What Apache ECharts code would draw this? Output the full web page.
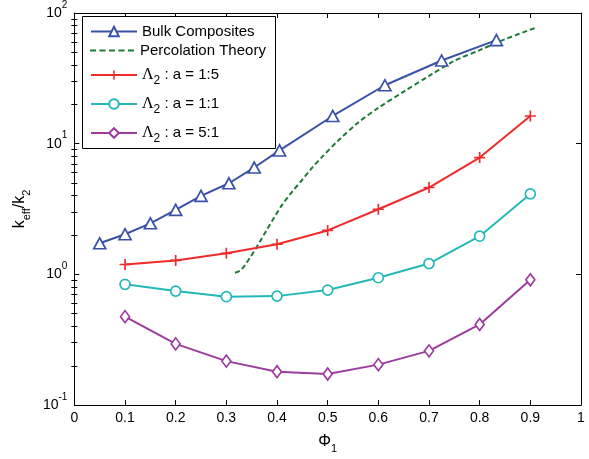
<!DOCTYPE html>
<html>
<head>
<meta charset="utf-8">
<script src="https://cdn.jsdelivr.net/npm/echarts@6/dist/echarts.min.js"></script>
<style>
  html, body { margin: 0; padding: 0; background: #fff; }
  #chart { width: 589px; height: 459px; }
</style>
</head>
<body>
<div id="chart"></div>
<script>
// Effective conductivity ratio k_eff/k_2 versus volume fraction Φ1

// Bulk composites (measured)
const bulkPhi = [0.05, 0.10, 0.15, 0.20, 0.25, 0.305, 0.355, 0.405, 0.51, 0.613, 0.725, 0.833];
const bulkK   = [1.73, 2.03, 2.46, 3.12, 3.99, 4.98, 6.57, 8.88, 16.3, 28.0, 43.3, 62.0];

// Percolation theory curve
const percPhi = [0.317, 0.327, 0.337, 0.347, 0.357, 0.367, 0.38, 0.395, 0.41, 0.43, 0.45, 0.47,
                 0.49, 0.52, 0.56, 0.60, 0.65, 0.70, 0.75, 0.80, 0.85, 0.91];
const percK   = [1.03, 1.07, 1.18, 1.35, 1.55, 1.80, 2.20, 2.75, 3.40, 4.30, 5.30, 6.60,
                 8.00, 10.5, 14.5, 18.8, 25.0, 33.0, 43.0, 52.0, 63.0, 77.0];

// Λ2 model for three aspect ratios
const lambdaPhi = [0.1, 0.2, 0.3, 0.4, 0.5, 0.6, 0.7, 0.8, 0.9];
const lambdaK15 = [1.19, 1.28, 1.45, 1.70, 2.17, 3.15, 4.62, 7.83, 16.3];
const lambdaK11 = [0.84, 0.745, 0.675, 0.682, 0.759, 0.943, 1.21, 1.96, 4.13];
const lambdaK51 = [0.475, 0.294, 0.217, 0.180, 0.173, 0.204, 0.26, 0.414, 0.909];

// Axis ticks
const yMajorTicks = [0.1, 1, 10, 100];
const yMinorTicks = [0.2, 0.3, 0.4, 0.5, 0.6, 0.7, 0.8, 0.9,
                     2, 3, 4, 5, 6, 7, 8, 9,
                     20, 30, 40, 50, 60, 70, 80, 90];

const seriesNames = ['Bulk Composites', 'Percolation Theory',
                     'Λ2 : a = 1:5', 'Λ2 : a = 1:1', 'Λ2 : a = 5:1'];
const legendTops = [24, 43, 63, 92, 121];

const FONT = '"Liberation Sans", Arial, Helvetica, sans-serif';
const COLORS = ['#3a52a6', '#1f7a36', '#ee2a2a', '#25b8b8', '#9c3c9c'];

const zip = (xs, ys) => xs.map((x, i) => [x, ys[i]]);

// Rich-text styles: every token has the same padded height, so the
// padding alone decides where the glyphs sit (sub/superscripts).
function subRich(baseSize, subSize, baseFamily) {
  return {
    b: { fontFamily: baseFamily || FONT, fontSize: baseSize, color: '#000', lineHeight: baseSize,
         padding: [4, 0, 4, 0] },
    s: { fontFamily: FONT, fontSize: subSize, color: '#000', lineHeight: subSize,
         padding: [baseSize + 8 - subSize, 0, 0, 0] }
  };
}

const legendRich = {
  g: { fontFamily: '"Liberation Serif", "Times New Roman", serif', fontSize: 16, color: '#000',
       lineHeight: 16, padding: [4, 0, 4, 0] },
  s: { fontFamily: FONT, fontSize: 12, color: '#000', lineHeight: 12, padding: [12, 0, 0, 0] },
  t: { fontFamily: FONT, fontSize: 15, color: '#000', lineHeight: 16, padding: [4, 0, 4, 0] }
};

function legendLabel(name) {
  if (name.indexOf('Λ2') === 0) {
    return '{g|Λ}{s|2}{t|' + name.slice(2) + '}';
  }
  return name;
}

const supRich = {
  b: { fontFamily: FONT, fontSize: 14, color: '#000', lineHeight: 14, padding: [6, 0, 6, 0] },
  e: { fontFamily: FONT, fontSize: 10, color: '#000', lineHeight: 10, padding: [0, 0, 16, 0] }
};

const plusPath = 'path://M-0.9,-6H0.9V-0.9H6V0.9H0.9V6H-0.9V0.9H-6V-0.9H-0.9Z';
const dashIcon = 'path://M0,0H6V2H0Z M9.5,0H15.5V2H9.5Z M19,0H25V2H19Z M28.5,0H34.5V2H28.5Z M38,0H44V2H38Z';

function lineSeries(name, data, color, symbol, symbolSize, filled) {
  return {
    name: name,
    type: 'line',
    data: data,
    xAxisIndex: 0,
    yAxisIndex: 0,
    symbol: symbol,
    symbolSize: symbolSize,
    showAllSymbol: true,
    lineStyle: { color: color, width: 2 },
    itemStyle: filled
      ? { color: color, borderWidth: 0 }
      : { color: '#fff', borderColor: color, borderWidth: 1.7 },
    emphasis: { disabled: true },
    animation: false,
    z: 2
  };
}

const chart = echarts.init(document.getElementById('chart'), null, { renderer: 'canvas' });

const axisLine = { show: true, onZero: false, lineStyle: { color: '#000', width: 1 } };

const option = {
  backgroundColor: '#fff',
  animation: false,
  textStyle: { fontFamily: FONT },
  grid: { left: 74, right: 8, top: 12, bottom: 47, containLabel: false },
  graphic: [{
    type: 'rect',
    z: 3,
    shape: { x: 82.5, y: 16.5, width: 193, height: 132 },
    style: { fill: '#fff', stroke: '#000', lineWidth: 1 }
  }],
  legend: seriesNames.map((n, i) => ({
    data: [i === 1 ? { name: n, icon: dashIcon } : n],
    left: 90,
    top: legendTops[i],
    orient: 'vertical',
    itemWidth: 46,
    itemHeight: i === 1 ? 2 : 12,
    padding: 0,
    selectedMode: false,
    formatter: legendLabel,
    textStyle: { fontFamily: FONT, fontSize: 15, color: '#000', rich: legendRich },
    z: 4
  })),
  xAxis: [{
    type: 'value', position: 'bottom', min: 0, max: 1, interval: 0.1,
    name: '{b|Φ}{s|1}', nameLocation: 'middle', nameGap: 18,
    nameTextStyle: { fontFamily: FONT, fontSize: 16, color: '#000', rich: subRich(16, 11) },
    axisLine: axisLine,
    axisTick: { show: true, inside: true, length: 5, lineStyle: { color: '#000' } },
    axisLabel: { color: '#000', fontSize: 14, fontFamily: FONT, margin: 6 },
    splitLine: { show: false }
  }, {
    type: 'value', position: 'top', min: 0, max: 1, interval: 0.1,
    axisLine: axisLine,
    axisTick: { show: true, inside: true, length: 5, lineStyle: { color: '#000' } },
    axisLabel: { show: false },
    splitLine: { show: false }
  }],
  yAxis: [{
    type: 'log', logBase: 10, position: 'left', min: 0.1, max: 100,
    name: '{b|k}{s|eff}{b|/k}{s|2}', nameLocation: 'middle', nameGap: 35, nameRotate: 90,
    nameTextStyle: { fontFamily: FONT, fontSize: 15, color: '#000', rich: subRich(16, 11) },
    axisLine: axisLine,
    axisTick: { show: true, inside: true, length: 5, lineStyle: { color: '#000' } },
    axisLabel: {
      margin: 7,
      fontSize: 14,
      color: '#000',
      formatter: v => '{b|10}{e|' + Math.round(Math.log10(v)) + '}',
      rich: supRich
    },
    splitLine: { show: false }
  }, {
    type: 'log', logBase: 10, position: 'left', min: 0.1, max: 100,
    axisLine: { show: false },
    axisTick: { show: true, inside: true, length: 3, customValues: yMinorTicks, lineStyle: { color: '#000' } },
    axisLabel: { show: false },
    splitLine: { show: false }
  }, {
    type: 'log', logBase: 10, position: 'right', min: 0.1, max: 100,
    axisLine: axisLine,
    axisTick: { show: true, inside: true, length: 5, customValues: yMajorTicks, lineStyle: { color: '#000' } },
    axisLabel: { show: false },
    splitLine: { show: false }
  }, {
    type: 'log', logBase: 10, position: 'right', min: 0.1, max: 100,
    axisLine: { show: false },
    axisTick: { show: true, inside: true, length: 3, customValues: yMinorTicks, lineStyle: { color: '#000' } },
    axisLabel: { show: false },
    splitLine: { show: false }
  }],
  series: [
    lineSeries(seriesNames[0], zip(bulkPhi, bulkK), COLORS[0], 'triangle', [12, 11], false),
    {
      name: seriesNames[1], type: 'line', data: zip(percPhi, percK),
      showSymbol: false, symbol: 'none', smooth: 0.3,
      lineStyle: { color: COLORS[1], width: 2, type: [5, 3] },
      itemStyle: { color: COLORS[1] },
      emphasis: { disabled: true }, animation: false, z: 2
    },
    lineSeries(seriesNames[2], zip(lambdaPhi, lambdaK15), COLORS[2], plusPath, 11, true),
    lineSeries(seriesNames[3], zip(lambdaPhi, lambdaK11), COLORS[3], 'circle', 10, false),
    lineSeries(seriesNames[4], zip(lambdaPhi, lambdaK51), COLORS[4], 'diamond', [9, 12], false)
  ]
};

chart.setOption(option);
</script>
</body>
</html>
